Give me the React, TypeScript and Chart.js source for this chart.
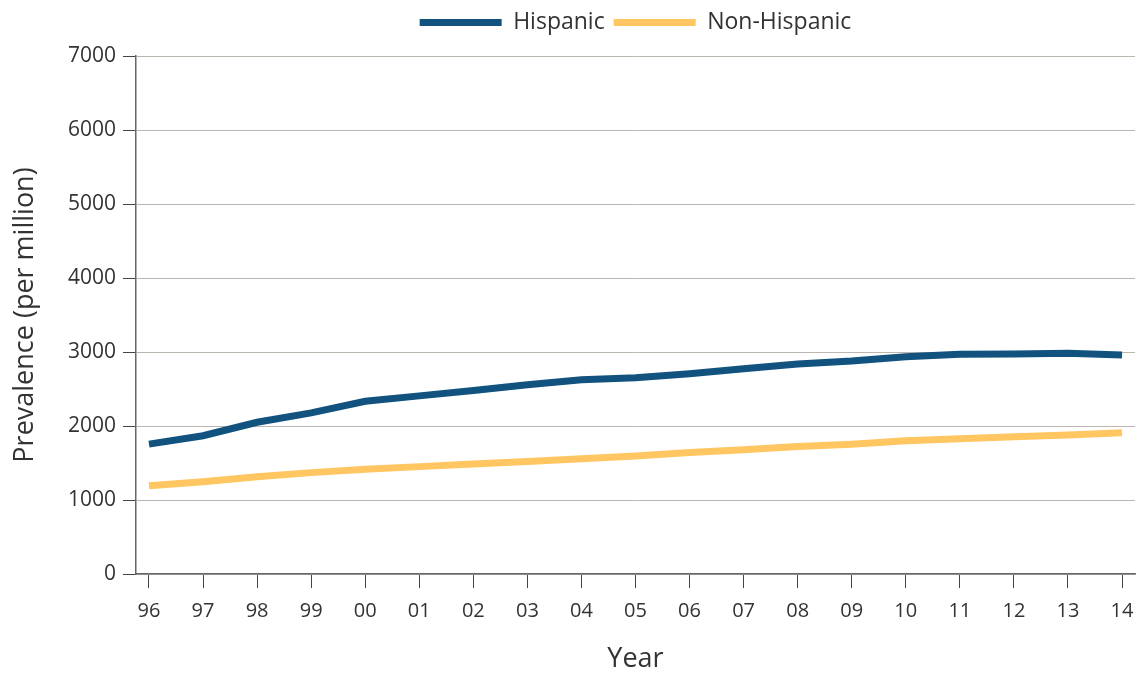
import React, { useEffect, useRef } from "react";
import { Chart, registerables } from "chart.js";

Chart.register(...registerables);

const years = ["96", "97", "98", "99", "00", "01", "02", "03", "04", "05", "06", "07", "08", "09", "10", "11", "12", "13", "14"];
const hispanic = [1755, 1868, 2050, 2177, 2334, 2407, 2480, 2557, 2625, 2652, 2706, 2774, 2837, 2878, 2937, 2969, 2973, 2982, 2959];
const nonHispanic = [1193, 1248, 1315, 1370, 1416, 1451, 1488, 1519, 1556, 1595, 1641, 1678, 1723, 1755, 1800, 1827, 1855, 1878, 1909];
const seriesNames = ["Hispanic", "Non-Hispanic"];
const seriesColors = ["#11527f", "#ffc661"];
const yTicks = [0, 1000, 2000, 3000, 4000, 5000, 6000, 7000];

const FONT = "'Open Sans', 'Noto Sans', sans-serif";
const TEXT = "#333333";

const legendPlacer = {
  id: "legendPlacer",
  beforeDraw(chart: any) {
    const lg = chart.legend;
    if (!lg) return;
    const h = lg.bottom - lg.top;
    lg.left = chart.chartArea.left;
    lg.right = chart.chartArea.right;
    lg.width = lg.right - lg.left;
    lg.top = 2;
    lg.bottom = 2 + h;
  },
};

export default function App() {
  const ref = useRef<HTMLCanvasElement | null>(null);

  useEffect(() => {
    document.body.style.margin = "0";
    const canvas = ref.current;
    if (!canvas) return;
    const chart = new Chart(canvas, {
      type: "line",
      data: {
        datasets: [hispanic, nonHispanic].map((vals, k) => ({
          label: seriesNames[k],
          data: vals.map((v, i) => ({ x: i, y: v })),
          borderColor: seriesColors[k],
          backgroundColor: seriesColors[k],
          borderWidth: 7,
          pointRadius: 0,
          tension: 0,
          fill: false,
        })),
      },
      plugins: [legendPlacer],
      options: {
        responsive: false,
        animation: false,
        layout: { padding: { top: 14, right: 4, left: 0, bottom: 0 } },
        plugins: {
          tooltip: { enabled: false },
          legend: {
            position: "top",
            labels: {
              boxWidth: 82,
              boxHeight: 7,
              padding: 9,
              color: TEXT,
              font: { family: FONT, size: 23 },
              generateLabels: (c: any) =>
                c.data.datasets.map((d: any, i: number) => ({
                  text: d.label,
                  fillStyle: d.borderColor,
                  strokeStyle: d.borderColor,
                  lineWidth: 0,
                  hidden: false,
                  datasetIndex: i,
                  fontColor: TEXT,
                })),
            },
          },
        },
        scales: {
          x: {
            type: "linear",
            min: -0.24,
            max: 18.24,
            afterBuildTicks: (s: any) => {
              s.ticks = years.map((_, i) => ({ value: i }));
            },
            afterFit: (s: any) => {
              s.height = 99;
              s.paddingRight = 0;
              s.paddingLeft = 0;
            },
            ticks: {
              stepSize: 1,
              autoSkip: false,
              maxRotation: 0,
              padding: 11,
              color: TEXT,
              font: { family: FONT, size: 20 },
              callback: (v: any) => years[Math.round(Number(v))] ?? "",
            },
            grid: {
              drawOnChartArea: false,
              drawTicks: true,
              tickLength: 14,
              tickColor: "#444444",
            },
            border: { color: "#666666", width: 1.5 },
            title: {
              display: true,
              text: "Year",
              color: TEXT,
              font: { family: FONT, size: 27 },
              padding: { top: 17, bottom: -3 },
            },
          },
          y: {
            min: 0,
            max: 7000,
            afterBuildTicks: (s: any) => {
              s.ticks = yTicks.map((v) => ({ value: v }));
            },
            afterFit: (s: any) => {
              s.width = 136;
            },
            ticks: {
              padding: 7,
              color: TEXT,
              font: { family: FONT, size: 21 },
              callback: (v: any) => String(v),
            },
            grid: {
              color: "#bcb6b1",
              lineWidth: 1,
              tickLength: 13,
              tickColor: "#444444",
            },
            border: { color: "#666666", width: 1.5 },
            title: {
              display: true,
              text: "Prevalence (per million)",
              color: TEXT,
              font: { family: FONT, size: 27 },
              padding: { top: 9, bottom: 4 },
            },
          },
        },
      },
    });
    return () => chart.destroy();
  }, []);

  return <canvas ref={ref} width={1139} height={673} style={{ display: "block" }} />;
}
